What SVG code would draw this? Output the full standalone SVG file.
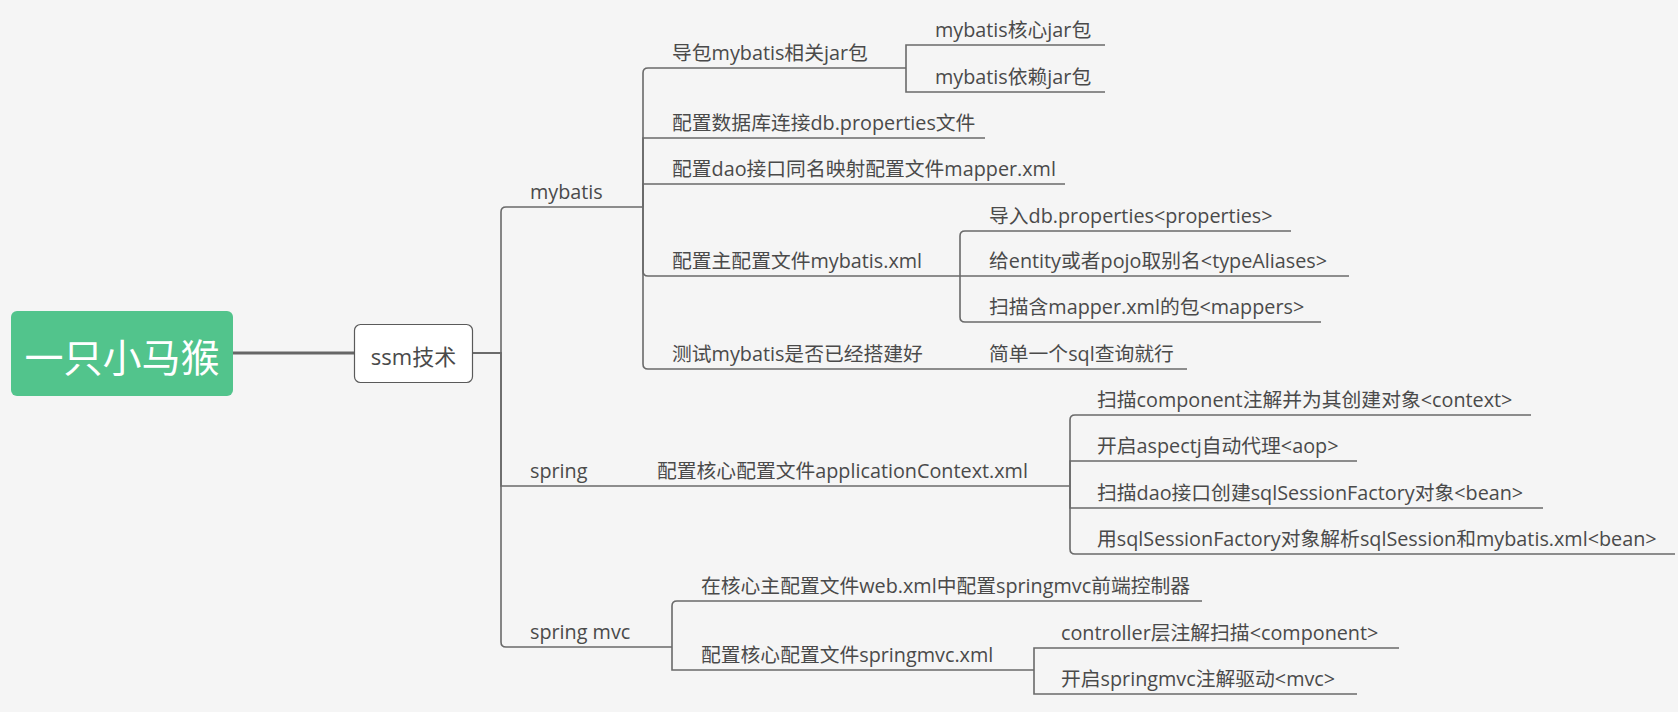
<svg xmlns="http://www.w3.org/2000/svg" width="1678" height="712" viewBox="0 0 1678 712">
<style>
.t{font-family:"Open Sans","Noto Sans CJK SC",sans-serif;font-size:19.8px;fill:#4a4a4a}
.c{fill:none;stroke:#6a6a6a;stroke-width:1.6}
</style>
<rect x="0" y="0" width="1678" height="712" fill="#f5f5f5"/>
<g id="connectors">
  <line x1="233" y1="353" x2="354" y2="353" stroke="#666" stroke-width="3"/>
  <path class="c" d="M473,353 H501 V212 Q501,207 506,207 H643"/>
  <path class="c" d="M473,353 H501 V486 H601"/>
  <path class="c" d="M473,353 H501 V642 Q501,647 506,647 H672"/>
  <path class="c" d="M643,207 V73 Q643,68 648,68 H906"/>
  <path class="c" d="M643,207 V138 H985"/>
  <path class="c" d="M643,207 V184 H1065"/>
  <path class="c" d="M643,207 V271 Q643,276 648,276 H960"/>
  <path class="c" d="M643,207 V364 Q643,369 648,369 H939"/>
  <path class="c" d="M906,68 V45 H1105"/>
  <path class="c" d="M906,68 V92 H1105"/>
  <path class="c" d="M960,276 V236 Q960,231 965,231 H1291"/>
  <path class="c" d="M960,276 H1349"/>
  <path class="c" d="M960,276 V317 Q960,322 965,322 H1321"/>
  <path class="c" d="M939,369 H1187"/>
  <path class="c" d="M601,486 H1070"/>
  <path class="c" d="M1070,486 V420 Q1070,415 1075,415 H1531"/>
  <path class="c" d="M1070,486 V461 H1357"/>
  <path class="c" d="M1070,486 V508 H1543"/>
  <path class="c" d="M1070,486 V549 Q1070,554 1075,554 H1675"/>
  <path class="c" d="M672,647 V606 Q672,601 677,601 H1202"/>
  <path class="c" d="M672,647 V670 H1034"/>
  <path class="c" d="M1034,670 V648 H1399"/>
  <path class="c" d="M1034,670 V694 H1357"/>
</g>
<g id="root">
  <rect x="11" y="311" width="222" height="85" rx="6" fill="#52c48c"/>
  <text x="122" y="372" text-anchor="middle" font-family="'Noto Sans CJK SC',sans-serif" font-size="39" fill="#ffffff">一只小马猴</text>
</g>
<g id="ssm">
  <rect x="354.5" y="324.5" width="118" height="58" rx="6" fill="#ffffff" stroke="#5a5a5a" stroke-width="1.2"/>
  <text x="413.5" y="365" text-anchor="middle" class="t" style="font-size:22px">ssm技术</text>
</g>
<g id="mybatis"><text class="t" x="530" y="199">mybatis</text></g>
<g id="spring"><text class="t" x="530" y="478">spring</text></g>
<g id="springmvc"><text class="t" x="530" y="639">spring mvc</text></g>
<g id="mb1"><text class="t" x="672" y="60">导包mybatis相关jar包</text></g>
<g id="mb1a"><text class="t" x="935" y="37">mybatis核心jar包</text></g>
<g id="mb1b"><text class="t" x="935" y="84">mybatis依赖jar包</text></g>
<g id="mb2"><text class="t" x="672" y="130">配置数据库连接db.properties文件</text></g>
<g id="mb3"><text class="t" x="672" y="176">配置dao接口同名映射配置文件mapper.xml</text></g>
<g id="mb4"><text class="t" x="672" y="268">配置主配置文件mybatis.xml</text></g>
<g id="mb4a"><text class="t" x="989" y="223">导入db.properties&lt;properties&gt;</text></g>
<g id="mb4b"><text class="t" x="989" y="268">给entity或者pojo取别名&lt;typeAliases&gt;</text></g>
<g id="mb4c"><text class="t" x="989" y="314">扫描含mapper.xml的包&lt;mappers&gt;</text></g>
<g id="mb5"><text class="t" x="672" y="361">测试mybatis是否已经搭建好</text></g>
<g id="mb5a"><text class="t" x="989" y="361">简单一个sql查询就行</text></g>
<g id="sp1"><text class="t" x="657" y="478">配置核心配置文件applicationContext.xml</text></g>
<g id="sp1a"><text class="t" x="1097" y="407">扫描component注解并为其创建对象&lt;context&gt;</text></g>
<g id="sp1b"><text class="t" x="1097" y="453">开启aspectj自动代理&lt;aop&gt;</text></g>
<g id="sp1c"><text class="t" x="1097" y="500">扫描dao接口创建sqlSessionFactory对象&lt;bean&gt;</text></g>
<g id="sp1d"><text class="t" x="1097" y="546">用sqlSessionFactory对象解析sqlSession和mybatis.xml&lt;bean&gt;</text></g>
<g id="mvc1"><text class="t" x="701" y="593">在核心主配置文件web.xml中配置springmvc前端控制器</text></g>
<g id="mvc2"><text class="t" x="701" y="662">配置核心配置文件springmvc.xml</text></g>
<g id="mvc2a"><text class="t" x="1061" y="640">controller层注解扫描&lt;component&gt;</text></g>
<g id="mvc2b"><text class="t" x="1061" y="686">开启springmvc注解驱动&lt;mvc&gt;</text></g>
</svg>
